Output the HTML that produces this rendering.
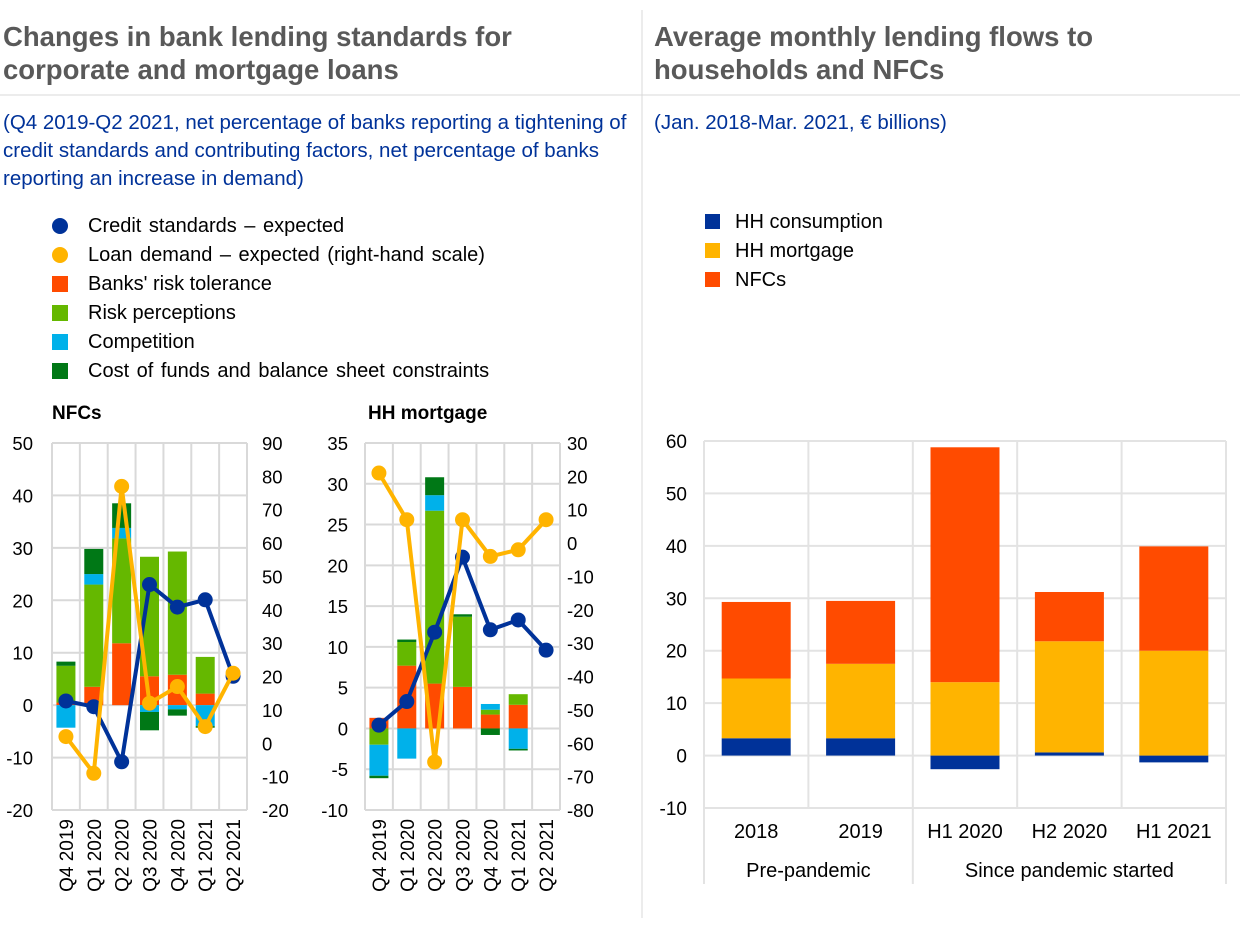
<!DOCTYPE html>
<html><head><meta charset="utf-8">
<style>
body{margin:0;background:#fff;width:1240px;height:926px;overflow:hidden;font-family:"Liberation Sans",sans-serif;}
svg text{font-family:"Liberation Sans",sans-serif;}
</style></head>
<body>
<svg id="s" width="1240" height="926" xmlns="http://www.w3.org/2000/svg">
<line x1="642" y1="10" x2="642" y2="918" stroke="#d9d9d9" stroke-width="1"/>
<line x1="0" y1="95" x2="1240" y2="95" stroke="#d9d9d9" stroke-width="1"/>
<g fill="#595959" font-weight="bold" font-size="27.5">
<text x="3" y="46">Changes in bank lending standards for</text>
<text x="3" y="79">corporate and mortgage loans</text>
<text x="654" y="46">Average monthly lending flows to</text>
<text x="654" y="79">households and NFCs</text>
</g>
<g fill="#003299" font-size="20.5">
<text x="3" y="129">(Q4 2019-Q2 2021, net percentage of banks reporting a tightening of</text>
<text x="3" y="157">credit standards and contributing factors, net percentage of banks</text>
<text x="3" y="185">reporting an increase in demand)</text>
<text x="654" y="129">(Jan. 2018-Mar. 2021, € billions)</text>
</g>
<g font-size="20" fill="#000">
<circle cx="60" cy="226" r="8" fill="#003299"/>
<text x="88" y="232" word-spacing="2">Credit standards  – expected</text>
<circle cx="60" cy="255" r="8" fill="#ffb400"/>
<text x="88" y="261" word-spacing="2">Loan demand – expected (right-hand scale)</text>
<rect x="52" y="276" width="16" height="16" fill="#ff4b00"/>
<text x="88" y="290">Banks' risk tolerance</text>
<rect x="52" y="305" width="16" height="16" fill="#65b800"/>
<text x="88" y="319">Risk perceptions</text>
<rect x="52" y="334" width="16" height="16" fill="#00b1ea"/>
<text x="88" y="348">Competition</text>
<rect x="52" y="363" width="16" height="16" fill="#007816"/>
<text x="88" y="377" word-spacing="2">Cost of funds and balance sheet constraints</text>
<rect x="705" y="214" width="15" height="15" fill="#003299"/>
<text x="735" y="228">HH consumption</text>
<rect x="705" y="243" width="15" height="15" fill="#ffb400"/>
<text x="735" y="257">HH mortgage</text>
<rect x="705" y="272" width="15" height="15" fill="#ff4b00"/>
<text x="735" y="286">NFCs</text>
</g>
<text x="52" y="419" font-size="19" font-weight="bold">NFCs</text>
<text x="368" y="419" font-size="19" font-weight="bold">HH mortgage</text>
<g id="charts"></g>
</svg>
<script>
// ---- Small charts data ----
const quarters = ["Q4 2019","Q1 2020","Q2 2020","Q3 2020","Q4 2020","Q1 2021","Q2 2021"];
const nfcRiskTol   = [0.5, 3.5, 11.8, 5.5, 5.8, 2.2, 0];
const nfcRiskPerc  = [7.0, 19.5, 20.0, 22.8, 23.5, 7.0, 0];
const nfcComp      = [-4.3, 2.0, 2.0, -1.3, -0.8, -4.0, 0];
const nfcCost      = [0.8, 4.8, 4.7, -3.5, -1.2, -0.3, 0];
const nfcCredit    = [0.8, -0.3, -10.8, 23, 18.7, 20.1, 5.5];
const nfcDemand    = [2, -9, 77, 12, 17, 5, 21];
const nfcLeftTicks = [50,40,30,20,10,0,-10,-20];
const nfcRightTicks= [90,80,70,60,50,40,30,20,10,0,-10,-20];

const hhRiskTol    = [1.3, 7.7, 5.5, 5.1, 1.7, 2.9, 0];
const hhRiskPerc   = [-2.0, 2.9, 21.2, 8.6, 0.6, 1.3, 0];
const hhComp       = [-3.8, -3.7, 1.9, 0, 0.7, -2.5, 0];
const hhCost       = [-0.3, 0.3, 2.2, 0.3, -0.8, -0.2, 0];
const hhCredit     = [0.4, 3.3, 11.8, 21, 12.1, 13.3, 9.6];
const hhDemand     = [21, 7, -65.6, 7, -4, -2, 7];
const hhLeftTicks  = [35,30,25,20,15,10,5,0,-5,-10];
const hhRightTicks = [30,20,10,0,-10,-20,-30,-40,-50,-60,-70,-80];

// ---- Right chart data ----
const periods = ["2018","2019","H1 2020","H2 2020","H1 2021"];
const hhConsumption = [3.3, 3.3, -2.6, 0.6, -1.3];
const hhMortgage = [11.4, 14.2, 14.0, 21.2, 20.0];
const nfcFlows = [14.6, 12.0, 44.8, 9.4, 19.9];
const flowTicks = [60,50,40,30,20,10,0,-10];

const NS="http://www.w3.org/2000/svg";
const root=document.getElementById('charts');
function el(tag,attrs,parent){const e=document.createElementNS(NS,tag);for(const k in attrs)e.setAttribute(k,attrs[k]);(parent||root).appendChild(e);return e;}

function smallChart(cfg){
  const {x0,x1,y0,y1,lmax,lmin,rmax,rmin,key}=cfg;
  const yL=v=>y0+(lmax-v)/(lmax-lmin)*(y1-y0);
  const yR=v=>y0+(rmax-v)/(rmax-rmin)*(y1-y0);
  const n=quarters.length, step=(x1-x0)/n;
  const cx=i=>x0+step*(i+0.5);
  const g=el('g',{});
  
  
  cfg.lt.forEach(t=>{const l=el('line',{x1:x0,x2:x1,y1:yL(t),y2:yL(t),stroke:'#d9d9d9','stroke-width':2},g);
    
    
    const tx=el('text',{x:cfg.lx,y:yL(t)+7,'text-anchor':'end','font-size':18.5},g);tx.textContent=t;
    
    });
  cfg.rt.forEach(t=>{const tx=el('text',{x:cfg.rx,y:yR(t)+7,'font-size':18.5},g);tx.textContent=t;
    
    });
  for(let i=0;i<=n;i++){const l=el('line',{x1:x0+step*i,x2:x0+step*i,y1:y0,y2:y1,stroke:'#d9d9d9','stroke-width':2},g);
    
    }
  const series=[[cfg.tol,'#ff4b00','risk-tolerance'],[cfg.perc,'#65b800','risk-perceptions'],[cfg.comp,'#00b1ea','competition'],[cfg.cost,'#007816','cost-of-funds']];
  const bw=19;
  quarters.forEach((q,i)=>{
    let pos=0,neg=0;
    series.forEach(([arr,col,nm])=>{
      const v=arr[i]; if(!v) return;
      let a,b; if(v>0){a=pos;b=pos+v;pos=b;}else{a=neg;b=neg+v;neg=b;}
      const r=el('rect',{x:cx(i)-bw/2,y:Math.min(yL(a),yL(b)),width:bw,height:Math.abs(yL(a)-yL(b)),fill:col},g);
      
      
    });
    const t=el('text',{transform:`translate(${cx(i)+7},${y1+9}) rotate(-90)`,'text-anchor':'end','font-size':19},g);
    t.textContent=q;
    
    
  });
  [[cfg.credit,'#003299',yL,'credit-standards'],[cfg.demand,'#ffb400',yR,'loan-demand']].forEach(([arr,col,f,nm])=>{
    const p=el('polyline',{points:arr.map((v,i)=>cx(i)+','+f(v)).join(' '),fill:'none',stroke:col,'stroke-width':4,'stroke-linejoin':'round'},g);
    
    
    arr.forEach((v,i)=>{const c=el('circle',{cx:cx(i),cy:f(v),r:7.5,fill:col},g);
      
      });
  });
}
smallChart({key:'nfc',x0:52,x1:247,y0:443,y1:810,lmax:50,lmin:-20,rmax:90,rmin:-20,lx:33,rx:262,lt:nfcLeftTicks,rt:nfcRightTicks,
  tol:nfcRiskTol,perc:nfcRiskPerc,comp:nfcComp,cost:nfcCost,credit:nfcCredit,demand:nfcDemand});
smallChart({key:'hh',x0:365,x1:560,y0:443,y1:810,lmax:35,lmin:-10,rmax:30,rmin:-80,lx:348,rx:567,lt:hhLeftTicks,rt:hhRightTicks,
  tol:hhRiskTol,perc:hhRiskPerc,comp:hhComp,cost:hhCost,credit:hhCredit,demand:hhDemand});

// right chart
(function(){
  const x0=704,x1=1226,y0=441,y1=808,max=60,min=-10;
  const y=v=>y0+(max-v)/(max-min)*(y1-y0);
  const step=(x1-x0)/periods.length, cx=i=>x0+step*(i+0.5);
  const g=el('g',{});
  
  
  flowTicks.forEach(t=>{const l=el('line',{x1:x0,x2:x1,y1:y(t),y2:y(t),stroke:'#e3e3e3','stroke-width':2},g);
    
    
    const tx=el('text',{x:687,y:y(t)+7,'text-anchor':'end','font-size':19},g);tx.textContent=t;
    
    });
  for(let i=0;i<=periods.length;i++){const l=el('line',{x1:x0+step*i,x2:x0+step*i,y1:y0,y2:y1,stroke:'#e3e3e3','stroke-width':2},g);
    
    }
  [x0,x0+step*2,x1].forEach(xx=>{const l=el('line',{x1:xx,x2:xx,y1:y1,y2:884,stroke:'#e3e3e3','stroke-width':2},g);
    
    });
  const bw=69;
  periods.forEach((p,i)=>{
    let pos=0,neg=0;
    [[hhConsumption,'#003299','hh-consumption'],[hhMortgage,'#ffb400','hh-mortgage'],[nfcFlows,'#ff4b00','nfcs']].forEach(([arr,col,nm])=>{
      const v=arr[i]; let a,b; if(v>=0){a=pos;b=pos+v;pos=b;}else{a=neg;b=neg+v;neg=b;}
      const r=el('rect',{x:cx(i)-bw/2,y:Math.min(y(a),y(b)),width:bw,height:Math.abs(y(a)-y(b)),fill:col},g);
      
      
    });
    const t=el('text',{x:cx(i),y:838,'text-anchor':'middle','font-size':20},g);t.textContent=p;
    
    
  });
  const g1=el('text',{x:x0+step,y:877,'text-anchor':'middle','font-size':20},g);g1.textContent='Pre-pandemic';
  
  
  const g2=el('text',{x:x0+step*3.5,y:877,'text-anchor':'middle','font-size':20},g);g2.textContent='Since pandemic started';
  
  
})();
</script>
</body></html>
